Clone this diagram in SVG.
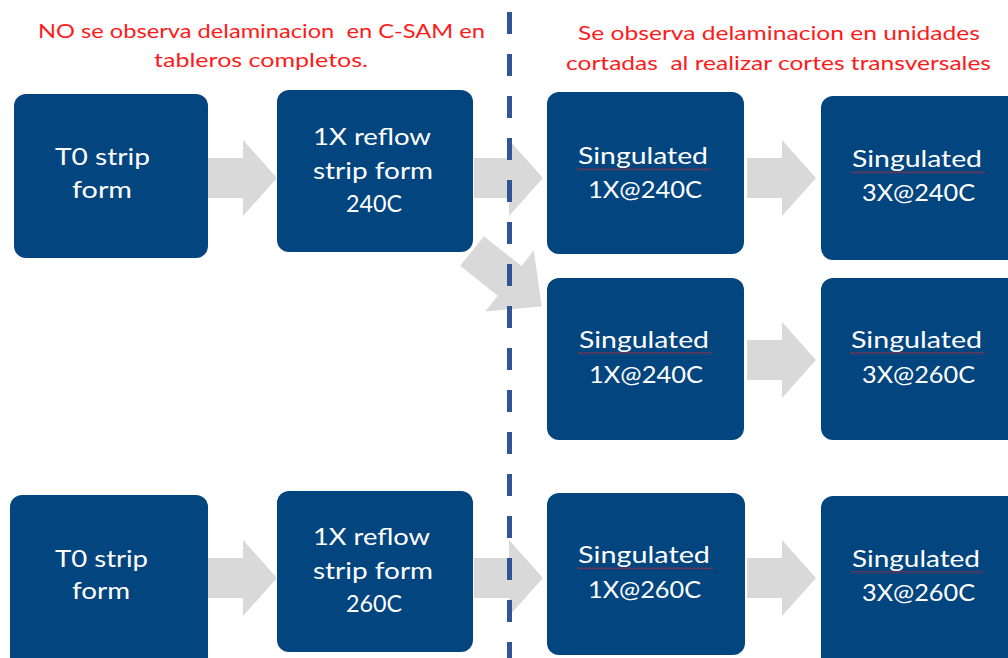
<svg xmlns="http://www.w3.org/2000/svg" width="1008" height="658" viewBox="0 0 1008 658">
  <style>
    .node { fill: #03457F; }
    .lbl { font-family: Lato, "Liberation Sans", sans-serif; font-size: 23px; fill: #FFFFFF; }
    .note { font-family: Lato, "Liberation Sans", sans-serif; font-size: 19px; fill: #FF1A1A; }
    .flow { fill: #D9D9D9; }
    .divider { stroke: #2F5597; stroke-width: 5; stroke-dasharray: 22 20; fill: none; }
  </style>
  <defs>
    <!-- spell-check squiggle under "Singulated" -->
    <pattern id="squiggle" patternUnits="userSpaceOnUse" width="4" height="3">
      <path d="M0,2.5 L2,0.5 L4,2.5" fill="none" stroke="#D9262B" stroke-width="0.9"/>
    </pattern>
    <!-- block arrow, 69 px long, pointing right -->
    <path id="blockArrow" d="M0,-20 H35 V-38 L69,0 L35,38 V20 H0 Z"/>
  </defs>

  <rect width="1008" height="658" fill="#FFFFFF"/>

  <!-- captions -->
  <g id="captions">
    <text class="note" xml:space="preserve" x="38" y="38" textLength="447" lengthAdjust="spacingAndGlyphs">NO se observa delaminacion  en C-SAM en</text>
    <text class="note" x="154" y="67" textLength="214" lengthAdjust="spacingAndGlyphs">tableros completos.</text>
    <text class="note" x="578" y="40" textLength="402" lengthAdjust="spacingAndGlyphs">Se observa delaminacion en unidades</text>
    <text class="note" xml:space="preserve" x="566" y="70" textLength="425" lengthAdjust="spacingAndGlyphs">cortadas  al realizar cortes transversales</text>
  </g>

  <!-- connectors -->
  <g id="connectors">
    <use href="#blockArrow" class="flow" transform="translate(208,178)"/>
    <use href="#blockArrow" class="flow" transform="translate(474,178)"/>
    <use href="#blockArrow" class="flow" transform="translate(747,178)"/>
    <path class="flow" transform="translate(472,251) rotate(38.5)" d="M0,-19 H48 V-39 L89,0 L48,39 V19 H0 Z"/>
    <use href="#blockArrow" class="flow" transform="translate(747,360)"/>
    <use href="#blockArrow" class="flow" transform="translate(208,578)"/>
    <use href="#blockArrow" class="flow" transform="translate(474,578)"/>
    <use href="#blockArrow" class="flow" transform="translate(747,578)"/>
  </g>

  <!-- dashed divider between strip-level and unit-level results -->
  <line id="divider" class="divider" x1="509.5" y1="12" x2="509.5" y2="658"/>

  <g id="t0-strip-1">
    <rect class="node" x="14" y="94" width="194" height="164" rx="12"/>
    <text class="lbl" x="55" y="165" textLength="95" lengthAdjust="spacingAndGlyphs">T0 strip</text>
    <text class="lbl" x="72" y="198" textLength="60" lengthAdjust="spacingAndGlyphs">form</text>
  </g>

  <g id="reflow-240">
    <rect class="node" x="277" y="90" width="196" height="162" rx="12"/>
    <text class="lbl" x="313" y="145" textLength="118" lengthAdjust="spacingAndGlyphs">1X reflow</text>
    <text class="lbl" x="313" y="179" textLength="120" lengthAdjust="spacingAndGlyphs">strip form</text>
    <text class="lbl" x="346" y="212" textLength="56" lengthAdjust="spacingAndGlyphs">240C</text>
  </g>

  <g id="sing-1x240-a">
    <rect class="node" x="547" y="92" width="197" height="162" rx="12"/>
    <text class="lbl" x="578" y="164" textLength="130" lengthAdjust="spacingAndGlyphs">Singulated</text>
    <rect x="577" y="168" width="134" height="3" fill="url(#squiggle)"/>
    <text class="lbl" x="588" y="198" textLength="114" lengthAdjust="spacingAndGlyphs">1X@240C</text>
  </g>

  <g id="sing-3x240">
    <rect class="node" x="821" y="96" width="200" height="164" rx="12"/>
    <text class="lbl" x="852" y="167" textLength="130" lengthAdjust="spacingAndGlyphs">Singulated</text>
    <rect x="851" y="171" width="134" height="3" fill="url(#squiggle)"/>
    <text class="lbl" x="862" y="201" textLength="113" lengthAdjust="spacingAndGlyphs">3X@240C</text>
  </g>

  <g id="sing-1x240-b">
    <rect class="node" x="547" y="278" width="197" height="162" rx="12"/>
    <text class="lbl" x="579" y="348" textLength="130" lengthAdjust="spacingAndGlyphs">Singulated</text>
    <rect x="578" y="352" width="134" height="3" fill="url(#squiggle)"/>
    <text class="lbl" x="589" y="383" textLength="114" lengthAdjust="spacingAndGlyphs">1X@240C</text>
  </g>

  <g id="sing-3x260-a">
    <rect class="node" x="821" y="278" width="200" height="162" rx="12"/>
    <text class="lbl" x="851" y="348" textLength="131" lengthAdjust="spacingAndGlyphs">Singulated</text>
    <rect x="850" y="352" width="135" height="3" fill="url(#squiggle)"/>
    <text class="lbl" x="862" y="383" textLength="113" lengthAdjust="spacingAndGlyphs">3X@260C</text>
  </g>

  <g id="t0-strip-2">
    <rect class="node" x="10" y="495" width="198" height="175" rx="12"/>
    <text class="lbl" x="55" y="567" textLength="93" lengthAdjust="spacingAndGlyphs">T0 strip</text>
    <text class="lbl" x="72" y="599" textLength="58" lengthAdjust="spacingAndGlyphs">form</text>
  </g>

  <g id="reflow-260">
    <rect class="node" x="277" y="491" width="196" height="161" rx="12"/>
    <text class="lbl" x="313" y="545" textLength="117" lengthAdjust="spacingAndGlyphs">1X reflow</text>
    <text class="lbl" x="313" y="579" textLength="120" lengthAdjust="spacingAndGlyphs">strip form</text>
    <text class="lbl" x="346" y="612" textLength="56" lengthAdjust="spacingAndGlyphs">260C</text>
  </g>

  <g id="sing-1x260">
    <rect class="node" x="547" y="493" width="198" height="162" rx="12"/>
    <text class="lbl" x="578" y="563" textLength="132" lengthAdjust="spacingAndGlyphs">Singulated</text>
    <rect x="577" y="567" width="136" height="3" fill="url(#squiggle)"/>
    <text class="lbl" x="588" y="598" textLength="113" lengthAdjust="spacingAndGlyphs">1X@260C</text>
  </g>

  <g id="sing-3x260-b">
    <rect class="node" x="821" y="496" width="200" height="175" rx="12"/>
    <text class="lbl" x="852" y="567" textLength="128" lengthAdjust="spacingAndGlyphs">Singulated</text>
    <rect x="851" y="571" width="132" height="3" fill="url(#squiggle)"/>
    <text class="lbl" x="862" y="601" textLength="113" lengthAdjust="spacingAndGlyphs">3X@260C</text>
  </g>
</svg>
